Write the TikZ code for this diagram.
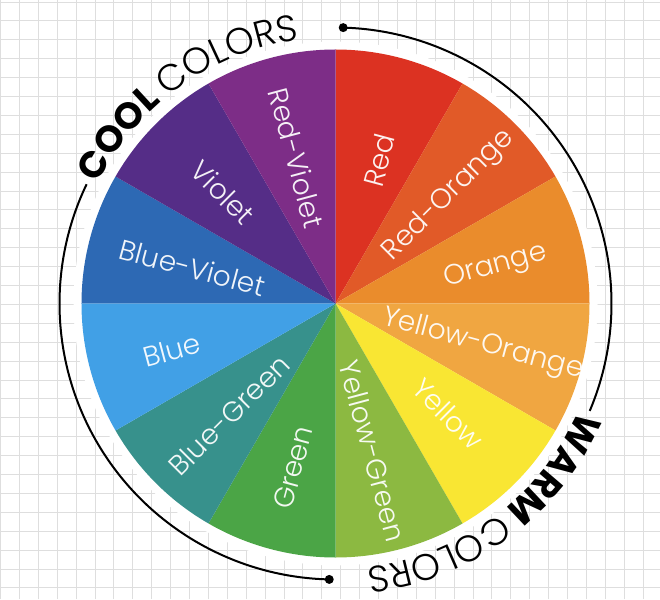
\documentclass[tikz,border=0pt]{standalone}
\usepackage{fontspec}
\setmainfont{Poppins}
\newfontfamily\thinfont{Poppins Light}
\usetikzlibrary{decorations.text}
\definecolor{cRed}{HTML}{DC3222}
\definecolor{cRedOrange}{HTML}{E15A28}
\definecolor{cOrange}{HTML}{EA8C2C}
\definecolor{cYellowOrange}{HTML}{F0A641}
\definecolor{cYellow}{HTML}{F9E633}
\definecolor{cYellowGreen}{HTML}{8CB941}
\definecolor{cGreen}{HTML}{4BA546}
\definecolor{cBlueGreen}{HTML}{37918C}
\definecolor{cBlue}{HTML}{41A0E6}
\definecolor{cBlueViolet}{HTML}{2D69B4}
\definecolor{cViolet}{HTML}{552D87}
\definecolor{cRedViolet}{HTML}{7D2D87}
\definecolor{gridgray}{HTML}{DEDEDE}
\begin{document}
\begin{tikzpicture}[x=1pt,y=1pt,
  gridline/.style={draw=gridgray, line width=0.9pt},
  lbl/.style={text=white, text opacity=0.93, font=\thinfont\fontsize{28}{30}\selectfont, inner sep=0pt},
  ringline/.style={line width=2pt, draw=black},
  dotmark/.style={circle, fill=black, inner sep=0pt, minimum size=9pt}]
\useasboundingbox (-335.5,-295.5) rectangle (324.5,303.5);
\fill[white] (-335.5,-295.5) rectangle (324.5,303.5);
% grid
\foreach \i in {0,...,35} \draw[gridline] ({0.5+18.9*\i-335.5},-295.5) -- ++(0,599);
\foreach \j in {0,...,32} \draw[gridline] (-335.5,{301.5-18.9*\j}) -- ++(660,0);
% white ring around wheel
\fill[white] (0,0) circle[radius=262pt];
% wheel
\coordinate (C) at (0,0);
\foreach \a/\c in {90/cRed,60/cRedOrange,30/cOrange,0/cYellowOrange,-30/cYellow,-60/cYellowGreen,-90/cGreen,-120/cBlueGreen,-150/cBlue,-180/cBlueViolet,-210/cViolet,-240/cRedViolet}
  \fill[\c] (C) -- (\a:254pt) arc[start angle=\a, end angle=\a-30, radius=254pt] -- cycle;
% labels
\node[lbl, rotate=75]  (lRed)          at (43.5,143.5)   {Red};
\node[lbl, rotate=45]  (lRedOrange)    at (113.5,108)    {Red-Orange};
\node[lbl, rotate=15]  (lOrange)       at (160,36.5)     {Orange};
\node[lbl, rotate=-15] (lYellowOrange) at (147.5,-41.5)  {Yellow-Orange};
\node[lbl, rotate=-45] (lYellow)       at (112.5,-110.5) {Yellow};
\node[lbl, rotate=-75] (lYellowGreen)  at (37,-147.5)    {Yellow-Green};
\node[lbl, rotate=75]  (lGreen)        at (-42.5,-164)   {Green};
\node[lbl, rotate=45]  (lBlueGreen)    at (-106.5,-111.5){Blue-Green};
\node[lbl, rotate=15]  (lBlue)         at (-164,-46.5)   {Blue};
\node[lbl, rotate=-15] (lBlueViolet)   at (-143,36)      {Blue-Violet};
\node[lbl, rotate=-45] (lViolet)       at (-112.5,111)   {Violet};
\node[lbl, rotate=-75] (lRedViolet)    at (-39,145.5)    {Red-Violet};
% outer arcs with dots
\node[dotmark] (dotTop) at (88.4:276pt) {};
\node[dotmark] (dotBottom) at (-91.3:276pt) {};
\draw[ringline] (dotTop.center) arc[start angle=88.4, end angle=-22.9, radius=276pt];
\draw[ringline] (dotBottom.center) arc[start angle=-91.3, end angle=-205.6, radius=276pt];
% curved titles
\path[decorate, decoration={text along path, text align=center,
  text={|\fontsize{37}{40}\selectfont\bfseries|COOL |\thinfont\fontsize{37}{40}\selectfont|COLORS}}]
  (165:266pt) arc[start angle=165, end angle=86, radius=266pt];
\path[decorate, decoration={text along path, text align=center,
  text={|\fontsize{37}{40}\selectfont\bfseries|WARM |\thinfont\fontsize{37}{40}\selectfont|COLORS}}]
  (-14:266pt) arc[start angle=-14, end angle=-93, radius=266pt];
\end{tikzpicture}
\end{document}
